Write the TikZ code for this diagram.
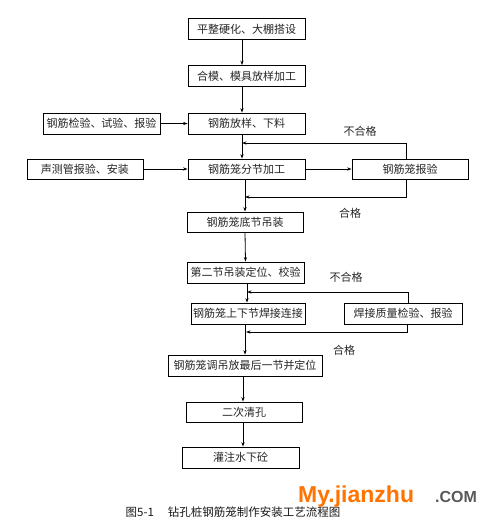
\documentclass[tikz,border=0pt]{standalone}
\usepackage{fontspec}
\setmainfont{Noto Sans CJK SC}
\newfontfamily\wmfont{Liberation Sans}
\usetikzlibrary{arrows.meta}
\begin{document}
\begin{tikzpicture}[x=1pt,y=-1pt,
  box/.style={draw,line width=0.8pt,minimum height=21pt,inner sep=0pt,font=\fontsize{11}{13}\selectfont,text=black!85},
  arr/.style={line width=0.8pt,-{Stealth[length=4.5pt,width=3.2pt]}},
  lab/.style={font=\fontsize{11}{13}\selectfont,text=black!85}]
\useasboundingbox (0,0) rectangle (492,523);
\fill[white] (0,0) rectangle (492,523);
% main column
\node[box,minimum width=117pt] (b1) at (246.5,29) {平整硬化、大棚搭设};
\node[box,minimum width=117pt] (b2) at (246.5,76) {合模、模具放样加工};
\node[box,minimum width=117pt] (b3) at (246.5,123.5) {钢筋放样、下料};
\node[box,minimum width=117pt] (l1) at (101.5,123.5) {钢筋检验、试验、报验};
\node[box,minimum width=117pt,minimum height=20pt] (b4) at (246.5,169) {钢筋笼分节加工};
\node[box,minimum width=116pt,minimum height=20pt] (l2) at (85,169) {声测管报验、安装};
\node[box,minimum width=116pt,minimum height=20pt] (r1) at (410,169) {钢筋笼报验};
\node[box,minimum width=116pt,minimum height=20pt] (b5) at (245,222) {钢筋笼底节吊装};
\node[box,minimum width=117pt] (b6) at (245.5,272.5) {第二节吊装定位、校验};
\node[box,minimum width=114pt] (b7) at (248,313.5) {钢筋笼上下节焊接连接};
\node[box,minimum width=118pt] (r2) at (403,313.5) {焊接质量检验、报验};
\node[box,minimum width=154pt] (b8) at (245,365.5) {钢筋笼调吊放最后一节并定位};
\node[box,minimum width=116pt,minimum height=20pt] (b9) at (244,412) {二次清孔};
\node[box,minimum width=117pt] (b10) at (240.5,457.5) {灌注水下砼};
% straight arrows
\draw[arr] ([xshift=-4.5pt]b1.south) -- ([xshift=-4.5pt]b2.north);
\draw[arr] ([xshift=-4.5pt]b2.south) -- ([xshift=-4.5pt]b3.north);
\draw[arr] (l1.east) -- (b3.west);
\draw[arr] ([xshift=-4.5pt]b3.south) -- ([xshift=-4.5pt]b4.north);
\draw[arr] (l2.east) -- (b4.west);
\draw[arr] (b4.east) -- (r1.west);
\draw[arr] ([xshift=-1.5pt]b4.south) -- ([xshift=0pt]b5.north);
\draw[arr] (b5.south) -- (b6.north);
\draw[arr] ([xshift=1.5pt]b6.south) -- ([xshift=-1pt]b7.north);
\draw[arr] ([xshift=-3pt]b7.south) -- (b8.north);
\draw[arr] ([xshift=-2pt]b8.south) -- ([xshift=-1pt]b9.north);
\draw[arr] ([xshift=-1pt]b9.south) -- ([xshift=2.5pt]b10.north);
% loops
\coordinate (m1) at (242,143);
\coordinate (m2) at (245,197);
\coordinate (m3) at (247,292);
\coordinate (m4) at (246,332);
\draw[arr] ([xshift=-4pt]r1.north) |- (m1);
\draw[arr] ([xshift=-4pt]r1.south) |- (m2);
\draw[arr] ([xshift=5pt]r2.north) |- (m3);
\draw[arr] ([xshift=4pt]r2.south) |- (m4);
% labels
\node[lab] (t1) at (360,131) {不合格};
\node[lab] (t2) at (350,213) {合格};
\node[lab] (t3) at (346,277) {不合格};
\node[lab] (t4) at (344,350) {合格};
% caption
\node[font=\fontsize{11.5}{13}\selectfont,text=black!90] (cap) at (233,512) {图5-1\hspace{1.2em}钻孔桩钢筋笼制作安装工艺流程图};
% watermark
\node[font=\wmfont\bfseries\fontsize{23}{25}\selectfont,text=orange!90!red,anchor=west,inner sep=0pt] (wm1) at (298,497) {My.jianzhu};
\node[font=\wmfont\bfseries\fontsize{16}{18}\selectfont,text=black!65,anchor=west,inner sep=0pt] (wm2) at (435,497) {.COM};
\end{tikzpicture}
\end{document}
